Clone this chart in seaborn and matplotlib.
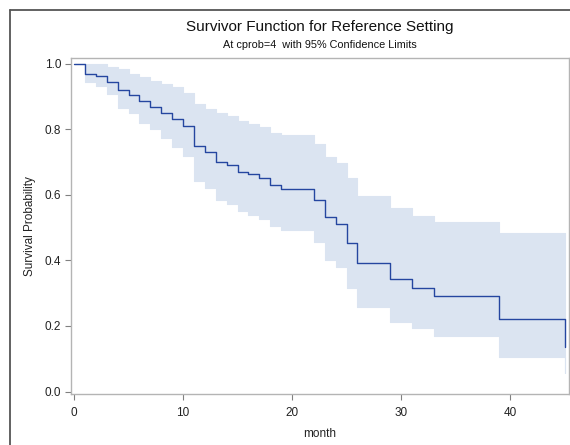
import matplotlib
matplotlib.use("Agg")
import matplotlib.pyplot as plt
from matplotlib.lines import Line2D
import seaborn as sns
import pandas as pd

# ---- data ----
month = [0, 1, 2, 3, 4, 5, 6, 7, 8, 9, 10, 11, 12, 13, 14, 15, 16, 17, 18, 19,
         22, 23, 24, 25, 26, 29, 31, 33, 39, 45]
survival = [1.0, 0.969, 0.964, 0.946, 0.921, 0.906, 0.888, 0.869, 0.851, 0.832,
            0.809, 0.749, 0.730, 0.702, 0.691, 0.671, 0.664, 0.651, 0.629, 0.619,
            0.585, 0.534, 0.511, 0.452, 0.391, 0.343, 0.317, 0.293, 0.220, 0.135]
upper = [1.0, 1.0, 1.0, 0.990, 0.983, 0.970, 0.959, 0.948, 0.938, 0.928,
         0.912, 0.877, 0.862, 0.849, 0.841, 0.827, 0.816, 0.806, 0.790, 0.783,
         0.757, 0.715, 0.699, 0.652, 0.597, 0.560, 0.535, 0.516, 0.485, 0.316]
lower = [1.0, 0.944, 0.933, 0.908, 0.866, 0.849, 0.821, 0.800, 0.774, 0.747,
         0.719, 0.643, 0.620, 0.586, 0.573, 0.551, 0.539, 0.528, 0.505, 0.493,
         0.455, 0.400, 0.380, 0.315, 0.258, 0.213, 0.194, 0.169, 0.104, 0.057]
x_ticks = [0, 10, 20, 30, 40]
y_ticks = [0.0, 0.2, 0.4, 0.6, 0.8, 1.0]

df = pd.DataFrame({"month": month, "survival": survival,
                   "upper": upper, "lower": lower})

sns.set_style("white")
plt.rcParams["font.family"] = ["Liberation Sans", "DejaVu Sans"]

W, H = 570, 445
fig = plt.figure(figsize=(W / 100, H / 100), dpi=100)
ax_l, ax_r, ax_t, ax_b = 71, 569, 58, 394
ax = fig.add_axes([ax_l / W, (H - ax_b) / H, (ax_r - ax_l) / W, (ax_b - ax_t) / H])

band_color = "#dbe4f1"
line_color = "#2546a0"

ax.fill_between(df["month"], df["lower"], df["upper"], step="post",
                facecolor=band_color, edgecolor=band_color, linewidth=0.8, zorder=1)
sns.lineplot(data=df, x="month", y="survival", drawstyle="steps-post",
             color=line_color, linewidth=1.0, ax=ax, zorder=3)

ax.set_xlim(-0.28, 45.41)
ax.set_ylim(-0.0076, 1.018)
ax.set_xticks(x_ticks)
ax.set_xticklabels([str(v) for v in x_ticks])
ax.set_yticks(y_ticks)
ax.set_yticklabels([f"{v:.1f}" for v in y_ticks])

for s in ax.spines.values():
    s.set_visible(True)
    s.set_color("#b4b4b4")
    s.set_linewidth(1.0)

ax.tick_params(axis="both", direction="out", length=4, width=0.8,
               bottom=True, left=True, top=False, right=False,
               color="#808080", labelsize=8.5, labelcolor="#222222", pad=3)
ax.tick_params(axis="x", pad=5)
ax.set_xlabel("month", fontsize=8.5, color="#222222", labelpad=7)
ax.set_ylabel("Survival Probability", fontsize=8.5, color="#222222", labelpad=6)

cx = ((ax_l + ax_r) / 2) / W
fig.text(cx, 1 - 27 / H, "Survivor Function for Reference Setting",
         ha="center", va="center", fontsize=11, color="#111111")
fig.text(cx, 1 - 45.5 / H, "At cprob=4  with 95% Confidence Limits",
         ha="center", va="center", fontsize=7.8, color="#111111")

# outer frame (top and left edges visible in the reference)
fig.add_artist(Line2D([10.5 / W, 10.5 / W], [0, 1 - 9.5 / H],
                      transform=fig.transFigure, color="#555555", linewidth=1.3))
fig.add_artist(Line2D([10.5 / W, 1], [1 - 9.5 / H, 1 - 9.5 / H],
                      transform=fig.transFigure, color="#555555", linewidth=1.3))

fig.savefig("out.png", dpi=100)
